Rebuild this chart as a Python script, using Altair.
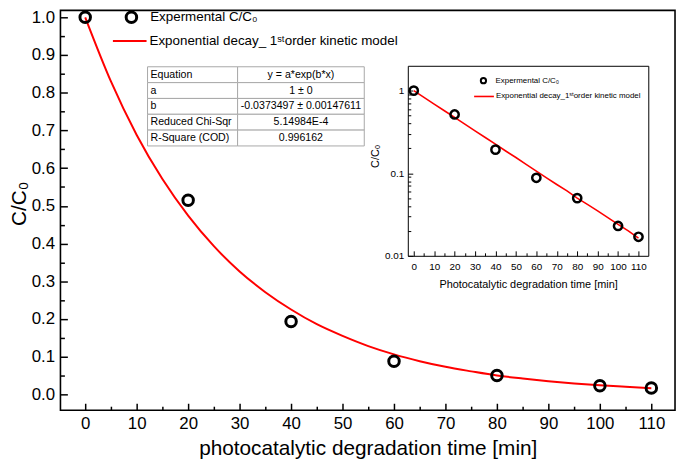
import altair as alt
import pandas as pd

# ---------------- data ----------------
time_exp = [0, 20, 40, 60, 80, 100, 110]
c_exp = [1.0, 0.515, 0.193, 0.088, 0.050, 0.023, 0.017]

time_fit = [0, 5, 10, 15, 20, 25, 30, 35, 40, 45, 50, 55, 60, 65, 70, 75, 80, 85, 90, 95, 100, 105, 110]
c_fit = [1.0, 0.830, 0.688, 0.571, 0.474, 0.393, 0.326, 0.271, 0.225, 0.186, 0.155, 0.128,
         0.106, 0.088, 0.073, 0.061, 0.050, 0.042, 0.035, 0.029, 0.024, 0.020, 0.0164]

exp_label = "Expermental C/C\u2080"
fit_label = "Exponential decay_ 1\u02e2\u1d57order kinetic model"
fit_label_inset = "Exponential decay_1\u02e2\u1d57order kinetic model"

x_major = [0, 10, 20, 30, 40, 50, 60, 70, 80, 90, 100, 110]
x_minor = [5, 15, 25, 35, 45, 55, 65, 75, 85, 95, 105]
y_major = [0.0, 0.1, 0.2, 0.3, 0.4, 0.5, 0.6, 0.7, 0.8, 0.9, 1.0]
y_minor = [0.05, 0.15, 0.25, 0.35, 0.45, 0.55, 0.65, 0.75, 0.85, 0.95]
inset_y_major = [0.01, 0.1, 1]
inset_y_minor = [0.02, 0.03, 0.04, 0.05, 0.06, 0.07, 0.08, 0.09,
                 0.2, 0.3, 0.4, 0.5, 0.6, 0.7, 0.8, 0.9]

table_params = ["Equation", "a", "b", "Reduced Chi-Sqr", "R-Square (COD)"]
table_values = ["y = a*exp(b*x)", "1 \u00b1 0", "-0.0373497 \u00b1 0.00147611", "5.14984E-4", "0.996162"]

# ---------------- layout ----------------
W, H = 621, 404
FONT = "Liberation Sans"

fit_df = pd.DataFrame({"t": time_fit, "c": c_fit, "s": fit_label})
exp_df = pd.DataFrame({"t": time_exp, "c": c_exp, "s": exp_label})
fit_in_df = pd.DataFrame({"t": time_fit, "c": c_fit, "s": fit_label_inset})
exp_in_df = pd.DataFrame({"t": time_exp, "c": c_exp, "s": exp_label})


def tick_layer(df, xs, ys, x_vals, y_vals, x_offset, y_orient_offset, size, width):
    """Invisible layer whose only purpose is to carry inward-pointing tick axes."""
    return alt.Chart(df).mark_point(opacity=0).encode(
        x=alt.X("t:Q", scale=xs, axis=alt.Axis(
            orient="top", offset=x_offset, values=x_vals, labels=False, domain=False, grid=False,
            title=None, ticks=True, tickSize=size, tickWidth=width, tickColor="black")),
        y=alt.Y("c:Q", scale=ys, axis=alt.Axis(
            orient="right", offset=y_orient_offset, values=y_vals, labels=False, domain=False,
            grid=False, title=None, ticks=True, tickSize=size, tickWidth=width, tickColor="black")),
    )


# ---------------- main panel ----------------
x_main = alt.Scale(domain=[-4.81, 114.6], nice=False, zero=False)
y_main = alt.Scale(domain=[-0.042, 1.0184], nice=False, zero=False)

main_line = alt.Chart(fit_df).mark_line(
    strokeWidth=2, interpolate="monotone"
).encode(
    x=alt.X("t:Q", scale=x_main, axis=alt.Axis(
        values=x_major, format="d", labelFontSize=17, labelPadding=6, ticks=False, tickSize=0,
        domain=False, grid=False, title="photocatalytic degradation time [min]",
        titleFontSize=21, titleFontWeight="normal", titleY=39, titleBaseline="middle")),
    y=alt.Y("c:Q", scale=y_main, axis=alt.Axis(
        values=y_major, format=".1f", labelFontSize=17, labelPadding=6, ticks=False, tickSize=0,
        domain=False, grid=False, title="C/C\u2080", titleFontSize=21, titleFontWeight="normal",
        titleAngle=270, titleX=-41, titleY=195, titleAlign="center", titleBaseline="middle")),
    color=alt.Color("s:N", scale=alt.Scale(domain=[fit_label], range=["#ff0000"]), legend=alt.Legend(
        orient="none", legendX=52, legendY=13, title=None, symbolType="stroke", symbolSize=1156,
        symbolStrokeWidth=2, labelFontSize=13.5, labelOffset=2, padding=0, labelLimit=0)),
)

main_pts = alt.Chart(exp_df).mark_point(
    filled=False, size=113, strokeWidth=3, color="black", opacity=1
).encode(
    x=alt.X("t:Q", scale=x_main, axis=None),
    y=alt.Y("c:Q", scale=y_main, axis=None),
    shape=alt.Shape("s:N", scale=alt.Scale(domain=[exp_label], range=["circle"]), legend=alt.Legend(
        orient="none", legendX=64.7, legendY=0, title=None, symbolSize=113, symbolStrokeWidth=3,
        symbolStrokeColor="black", symbolFillColor="transparent", labelFontSize=13.5,
        labelOffset=12, padding=0, labelLimit=0)),
)

main_major = tick_layer(exp_df, x_main, y_main, x_major, y_major, -H, -W, 7, 1.5)
main_minor = tick_layer(exp_df, x_main, y_main, x_minor, y_minor, -H, -W, 4, 1.5)

main = alt.layer(main_line, main_pts, main_major, main_minor).resolve_axis(
    x="independent", y="independent")

# ---------------- inset panel ----------------
IN_L, IN_R, IN_T, IN_B = 351, 594, 56, 248
x_in = alt.Scale(domain=[-2.9, 114.8], range=[IN_L, IN_R], nice=False, zero=False)
y_in = alt.Scale(type="log", domain=[0.01, 2], range=[IN_B, IN_T], nice=False)

inset_line = alt.Chart(fit_in_df).mark_line(strokeWidth=1.6).encode(
    x=alt.X("t:Q", scale=x_in, axis=alt.Axis(
        orient="bottom", offset=IN_B - H, values=x_major, format="d", labelFontSize=10, labelPadding=6,
        ticks=False, tickSize=0, domain=True, domainColor="black", domainWidth=1, grid=False,
        title="Photocatalytic degradation time [min]", titleFontSize=11, titleFontWeight="normal",
        titleY=29, titleBaseline="middle")),
    y=alt.Y("c:Q", scale=y_in, axis=alt.Axis(
        orient="left", offset=-IN_L, values=inset_y_major, format="~g", labelFontSize=10, labelPadding=4,
        ticks=False, tickSize=0, domain=True, domainColor="black", domainWidth=1, grid=False,
        title="C/C\u2080", titleFontSize=11, titleFontWeight="normal", titleAngle=270, titleX=-33,
        titleY=147, titleAlign="center", titleBaseline="middle")),
    color=alt.Color("s:N", scale=alt.Scale(domain=[fit_label_inset], range=["#ff0000"]), legend=alt.Legend(
        orient="none", legendX=417, legendY=76, title=None, symbolType="stroke", symbolSize=400,
        symbolStrokeWidth=1.6, labelFontSize=8, labelOffset=1, padding=0, labelLimit=0)),
)

inset_pts = alt.Chart(exp_in_df).mark_point(
    filled=False, size=70, strokeWidth=2.5, color="black", opacity=1
).encode(
    x=alt.X("t:Q", scale=x_in, axis=None),
    y=alt.Y("c:Q", scale=y_in, axis=None),
    shape=alt.Shape("s:N", scale=alt.Scale(domain=[exp_label], range=["circle"]), legend=alt.Legend(
        orient="none", legendX=423.4, legendY=67, title=None, symbolSize=28, symbolStrokeWidth=2,
        symbolStrokeColor="black", symbolFillColor="transparent", labelFontSize=8,
        labelOffset=8.3, padding=0, labelLimit=0)),
)

inset_major = tick_layer(exp_in_df, x_in, y_in, x_major, inset_y_major, -IN_B, IN_L - W, 5, 1)
inset_minor = tick_layer(exp_in_df, x_in, y_in, x_minor, inset_y_minor, -IN_B, IN_L - W, 3, 1)

inset_frame = alt.Chart(exp_in_df).mark_point(opacity=0).encode(
    x=alt.X("t:Q", scale=x_in, axis=alt.Axis(
        orient="top", offset=-IN_T, labels=False, ticks=False, domain=True, domainColor="black",
        domainWidth=1, grid=False, title=None)),
    y=alt.Y("c:Q", scale=y_in, axis=alt.Axis(
        orient="right", offset=IN_R - W, labels=False, ticks=False, domain=True, domainColor="black",
        domainWidth=1, grid=False, title=None)),
)

inset = alt.layer(inset_line, inset_pts, inset_major, inset_minor, inset_frame).resolve_axis(
    x="independent", y="independent")

# ---------------- parameter table ----------------
n = len(table_params)
split = 0.4155
cells_df = pd.DataFrame({
    "row": table_params + table_params,
    "x0": [0.0] * n + [split] * n,
    "x1": [split] * n + [1.0] * n,
})
left_df = pd.DataFrame({"row": table_params, "txt": table_params, "x": [0.0] * n})
right_df = pd.DataFrame({"row": table_params, "txt": table_values, "x": [(split + 1) / 2] * n})

x_tb = alt.Scale(domain=[0, 1], range=[88, 307], nice=False, zero=False)
y_tb = alt.Scale(domain=table_params, range=[57, 137], paddingInner=0, paddingOuter=0)

cells = alt.Chart(cells_df).mark_rect(fill="white", stroke="#a8a8a8", strokeWidth=1).encode(
    x=alt.X("x0:Q", scale=x_tb, axis=None),
    x2="x1:Q",
    y=alt.Y("row:N", scale=y_tb, axis=None, sort=None),
)
txt_left = alt.Chart(left_df).mark_text(align="left", dx=3, fontSize=10.7, color="black").encode(
    x=alt.X("x:Q", scale=x_tb, axis=None),
    y=alt.Y("row:N", scale=y_tb, axis=None, sort=None),
    text="txt:N",
)
txt_right = alt.Chart(right_df).mark_text(align="center", fontSize=10.7, color="black").encode(
    x=alt.X("x:Q", scale=x_tb, axis=None),
    y=alt.Y("row:N", scale=y_tb, axis=None, sort=None),
    text="txt:N",
)
table = alt.layer(cells, txt_left, txt_right)

# ---------------- assemble ----------------
chart = alt.layer(main, inset, table).resolve_scale(
    x="independent", y="independent", color="independent", shape="independent"
).resolve_axis(
    x="independent", y="independent"
).resolve_legend(
    color="independent", shape="independent"
).properties(
    width=W, height=H,
    autosize=alt.AutoSizeParams(type="none"),
    padding={"left": 53, "top": 0, "right": 2, "bottom": 54},
).configure(
    font=FONT
).configure_view(
    stroke="black", strokeWidth=1.6
).configure_axis(
    labelColor="black", titleColor="black", domainColor="black", tickColor="black"
).configure_legend(
    labelColor="black"
)

chart.save("out.html", embed_options={"renderer": "svg", "actions": False})
